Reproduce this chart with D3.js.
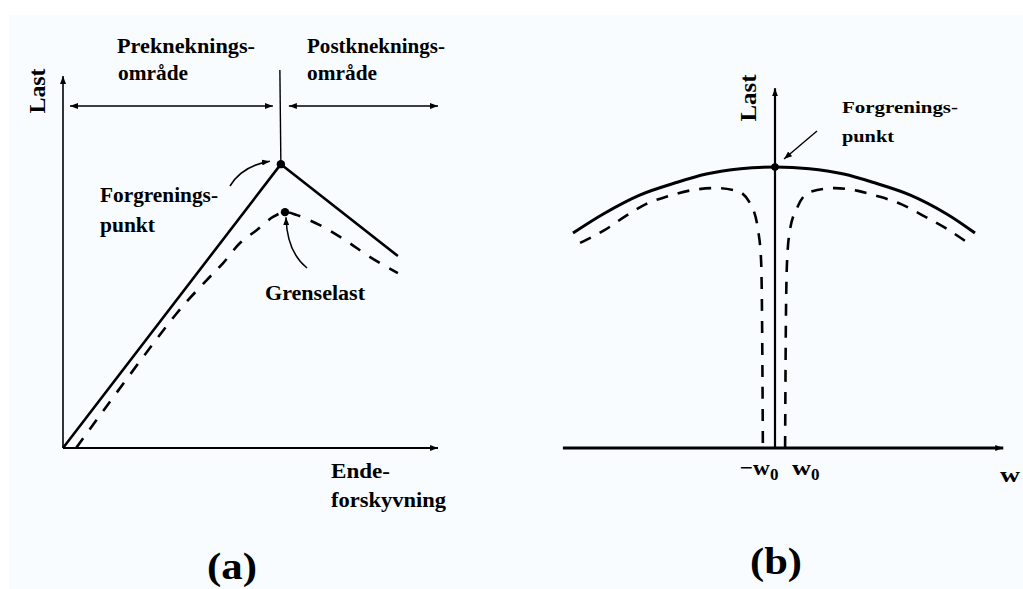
<!DOCTYPE html>
<html>
<head>
<meta charset="utf-8">
<script src="https://cdn.jsdelivr.net/npm/d3@7"></script>
<style>
  html, body { margin: 0; padding: 0; background: #ffffff; }
  svg { display: block; }
  text { font-family: "Liberation Serif", "Times New Roman", serif; font-weight: bold; fill: #000; }
</style>
</head>
<body>
<script>
// ---- (a) Last mot endeforskyvning ----
const perfectA = [[0, 0], [5.81, 7.63], [8.93, 5.16]];
const imperfectA = [
  [0.35, 0], [3.04, 3.63], [3.84, 4.52], [4.27, 4.97], [4.72, 5.51],
  [5.17, 5.86], [5.60, 6.21], [5.92, 6.34], [6.24, 6.26], [6.85, 5.99],
  [7.52, 5.59], [8.19, 5.13], [8.93, 4.70]
];
const bifurcationA = [5.81, 7.63];
const limitLoadA = [5.92, 6.34];

// ---- (b) Last mot utbøyning w ----
const perfectB = [
  [-10, 7.65], [-8.5, 8.33], [-6.7, 9.0], [-5, 9.42], [-3.4, 9.75], [-1.7, 9.94],
  [0, 10], [1.7, 9.94], [3.4, 9.75], [5, 9.42], [6.7, 9.0], [8.5, 8.33], [9.9, 7.65]
];
const imperfectLeftB = [
  [-9.65, 7.30], [-8.42, 7.76], [-7.38, 8.26], [-6.39, 8.68], [-5.30, 8.96],
  [-4.16, 9.17], [-2.97, 9.25], [-1.88, 9.15], [-1.19, 8.65], [-0.84, 7.76],
  [-0.69, 6.69], [-0.64, 4.56], [-0.60, 0]
];
const imperfectRightB = [
  [0.50, 0], [0.54, 4.56], [0.60, 6.69], [0.74, 7.76], [1.09, 8.54], [1.73, 9.11],
  [2.97, 9.25], [4.11, 9.15], [5.10, 8.96], [6.24, 8.68], [7.28, 8.29],
  [8.37, 7.86], [9.55, 7.30]
];
const bifurcationB = [0, 10];
const w0Ticks = [-0.6, 0.5];

const W = 1023, H = 589;
const svg = d3.select("body").append("svg").attr("width", W).attr("height", H);

svg.append("rect").attr("width", W).attr("height", H).attr("fill", "#ffffff");
svg.append("rect").attr("x", 9).attr("y", 15).attr("width", W - 9).attr("height", H - 15).attr("fill", "#f8fcfe");

// arrowheads
const defs = svg.append("defs");
function head(id, len, wid) {
  defs.append("marker")
    .attr("id", id)
    .attr("markerUnits", "userSpaceOnUse")
    .attr("viewBox", `0 0 ${len} ${wid}`)
    .attr("markerWidth", len).attr("markerHeight", wid)
    .attr("refX", len).attr("refY", wid / 2)
    .attr("orient", "auto-start-reverse")
    .append("path")
    .attr("d", `M0,0L${len},${wid / 2}L0,${wid}Z`)
    .attr("fill", "#000");
}
head("ax", 9, 7);
head("sm", 8, 6);

function label(g, str, x, y, size, len, opts = {}) {
  const t = g.append("text").attr("x", x).attr("y", y).attr("font-size", size).text(str);
  if (len) t.attr("textLength", len).attr("lengthAdjust", "spacingAndGlyphs");
  if (opts.anchor) t.attr("text-anchor", opts.anchor);
  if (opts.transform) t.attr("transform", opts.transform);
  return t;
}

// ================= Panel (a) =================
const xA = d3.scaleLinear().domain([0, 10]).range([63, 438]);
const yA = d3.scaleLinear().domain([0, 10]).range([448, 76]);
const gA = svg.append("g");

// axes
gA.append("line").attr("x1", xA(0)).attr("y1", yA(0)).attr("x2", xA(0)).attr("y2", yA(10))
  .attr("stroke", "#000").attr("stroke-width", 1.6).attr("marker-end", "url(#sm)");
gA.append("line").attr("x1", xA(0)).attr("y1", yA(0)).attr("x2", xA(10)).attr("y2", yA(0))
  .attr("stroke", "#000").attr("stroke-width", 2.2).attr("marker-end", "url(#sm)");

// region divider and double arrows
const xBif = xA(bifurcationA[0]);
gA.append("line").attr("x1", xBif - 1).attr("y1", 70).attr("x2", xBif).attr("y2", yA(bifurcationA[1]))
  .attr("stroke", "#000").attr("stroke-width", 1.4);
gA.append("line").attr("x1", 70).attr("y1", 106).attr("x2", xBif - 8).attr("y2", 106)
  .attr("stroke", "#000").attr("stroke-width", 1.6)
  .attr("marker-start", "url(#sm)").attr("marker-end", "url(#sm)");
gA.append("line").attr("x1", xBif + 8).attr("y1", 106).attr("x2", xA(10)).attr("y2", 106)
  .attr("stroke", "#000").attr("stroke-width", 1.6)
  .attr("marker-start", "url(#sm)").attr("marker-end", "url(#sm)");

// curves
const lineA = d3.line().x(d => xA(d[0])).y(d => yA(d[1]));
gA.append("path").datum(perfectA).attr("d", lineA).attr("fill", "none")
  .attr("stroke", "#000").attr("stroke-width", 2.6).attr("stroke-linejoin", "round");
gA.append("path").datum(imperfectA).attr("d", lineA.curve(d3.curveCatmullRom.alpha(0.5)))
  .attr("fill", "none").attr("stroke", "#000").attr("stroke-width", 2.6)
  .attr("stroke-dasharray", "12,11");

gA.append("circle").attr("cx", xA(bifurcationA[0])).attr("cy", yA(bifurcationA[1])).attr("r", 4.2).attr("fill", "#000");
gA.append("circle").attr("cx", xA(limitLoadA[0])).attr("cy", yA(limitLoadA[1])).attr("r", 4.2).attr("fill", "#000");

// pointer arrows
const pbx = xA(bifurcationA[0]), pby = yA(bifurcationA[1]);
gA.append("path").attr("d", `M230,186Q242,166 ${pbx - 11},${pby - 3}`)
  .attr("fill", "none").attr("stroke", "#000").attr("stroke-width", 1.5).attr("marker-end", "url(#sm)");
const plx = xA(limitLoadA[0]), ply = yA(limitLoadA[1]);
gA.append("path").attr("d", `M307,268Q287,252 ${plx + 1},${ply + 5}`)
  .attr("fill", "none").attr("stroke", "#000").attr("stroke-width", 1.5).attr("marker-end", "url(#sm)");

// labels
label(gA, "Last", 37, 45, 24, 45, { anchor: "middle", transform: "rotate(-90,37,45) translate(-46,8)" });
label(gA, "Prekneknings-", 117, 53, 21, 138);
label(gA, "område", 118, 80, 21, 70);
label(gA, "Postkneknings-", 307, 53, 21, 138);
label(gA, "område", 307, 80, 21, 70);
label(gA, "Forgrenings-", 100, 202, 21, 118);
label(gA, "punkt", 100, 232, 21, 55);
label(gA, "Grenselast", 265, 300, 21, 100);
label(gA, "Ende-", 331, 478, 21, 59);
label(gA, "forskyvning", 331, 507, 21, 115);
label(gA, "(a)", 207, 579, 38, 50);

// ================= Panel (b) =================
const xB = d3.scaleLinear().domain([-10, 10]).range([573, 977]);
const yB = d3.scaleLinear().domain([0, 10]).range([448, 167]);
const gB = svg.append("g");

gB.append("line").attr("x1", xB(-10.5)).attr("y1", yB(0)).attr("x2", xB(11.3)).attr("y2", yB(0))
  .attr("stroke", "#000").attr("stroke-width", 3).attr("marker-end", "url(#sm)");
gB.append("line").attr("x1", xB(0)).attr("y1", yB(0)).attr("x2", xB(0)).attr("y2", yB(12.8))
  .attr("stroke", "#000").attr("stroke-width", 2.2).attr("marker-end", "url(#sm)");

const lineB = d3.line().x(d => xB(d[0])).y(d => yB(d[1]));
gB.append("path").datum(perfectB).attr("d", lineB.curve(d3.curveCatmullRom.alpha(0.5)))
  .attr("fill", "none").attr("stroke", "#000").attr("stroke-width", 3);
const dashB = d3.line().x(d => xB(d[0])).y(d => yB(d[1])).curve(d3.curveMonotoneX);
gB.append("path").datum(imperfectLeftB).attr("d", dashB)
  .attr("fill", "none").attr("stroke", "#000").attr("stroke-width", 2.6).attr("stroke-dasharray", "12,10");
gB.append("path").datum(imperfectRightB).attr("d", dashB)
  .attr("fill", "none").attr("stroke", "#000").attr("stroke-width", 2.6).attr("stroke-dasharray", "12,10");

gB.append("circle").attr("cx", xB(bifurcationB[0])).attr("cy", yB(bifurcationB[1])).attr("r", 3.8).attr("fill", "#000");

// pointer to bifurcation point
gB.append("line").attr("x1", 817).attr("y1", 131)
  .attr("x2", xB(bifurcationB[0]) + 9).attr("y2", yB(bifurcationB[1]) - 8)
  .attr("stroke", "#000").attr("stroke-width", 1.4).attr("marker-end", "url(#sm)");

label(gB, "Last", 748, 98, 24, 47, { anchor: "middle", transform: "rotate(-90,748,98) translate(0,8)" });
label(gB, "Forgrenings-", 842, 113, 17, 116);
label(gB, "punkt", 842, 142, 17, 52);

// -w0 and w0 labels
const tl = gB.append("text").attr("x", xB(w0Ticks[0]) - 23).attr("y", 475).attr("font-size", 22);
tl.append("tspan").text("−w").attr("textLength", 30).attr("lengthAdjust", "spacingAndGlyphs");
tl.append("tspan").text("0").attr("font-size", 17).attr("dy", 5);
const tr = gB.append("text").attr("x", xB(w0Ticks[1]) + 7).attr("y", 475).attr("font-size", 22);
tr.append("tspan").text("w").attr("textLength", 19).attr("lengthAdjust", "spacingAndGlyphs");
tr.append("tspan").text("0").attr("font-size", 17).attr("dy", 5);

label(gB, "w", 1000, 482, 22, 20);
label(gB, "(b)", 750, 574, 38, 52);
</script>
</body>
</html>
